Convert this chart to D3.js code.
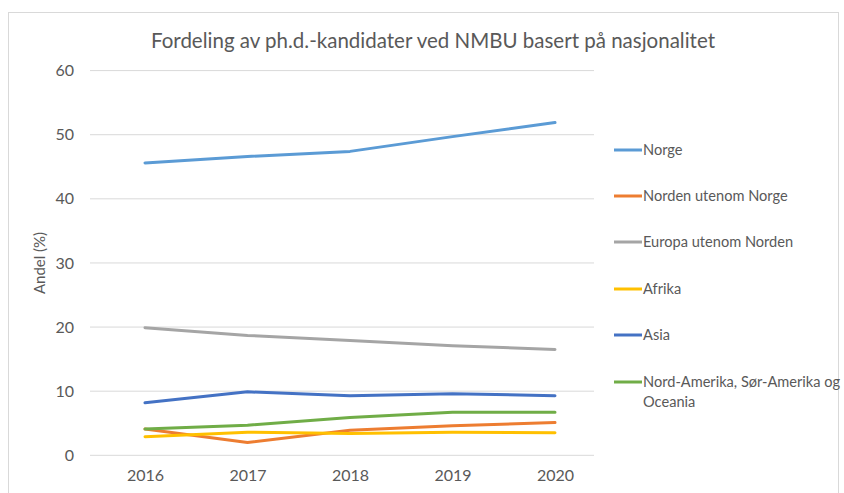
<!DOCTYPE html>
<html>
<head>
<meta charset="utf-8">
<script src="https://cdn.jsdelivr.net/npm/d3@7"></script>
<style>
  body { margin: 0; background: #fff; }
  text { font-family: Lato, "Open Sans", sans-serif; fill: #595959; }
</style>
</head>
<body>
<svg id="chart"></svg>
<script>
var w = 844;
var h = 493;

var years = [2016, 2017, 2018, 2019, 2020];
var seriesNames = ['Norge', 'Norden utenom Norge', 'Europa utenom Norden', 'Afrika', 'Asia', 'Nord-Amerika, Sør-Amerika og Oceania'];
var norge = [45.6, 46.6, 47.4, 49.7, 51.9];
var norden = [4.1, 2.0, 3.9, 4.6, 5.1];
var europa = [19.9, 18.7, 17.9, 17.1, 16.5];
var afrika = [2.9, 3.6, 3.4, 3.6, 3.5];
var asia = [8.2, 9.9, 9.3, 9.6, 9.3];
var amerika = [4.1, 4.7, 5.9, 6.7, 6.7];
var yTicks = [0, 10, 20, 30, 40, 50, 60];
var colors = ['#5B9BD5', '#ED7D31', '#A5A5A5', '#FFC000', '#4472C4', '#70AD47'];

var allSeries = [norge, norden, europa, afrika, asia, amerika];

var svg = d3.select('#chart').attr('width', w).attr('height', h);

// chart frame
svg.append('rect')
  .attr('x', 8.5).attr('y', 12.5)
  .attr('width', 830).attr('height', 500)
  .attr('fill', '#fff')
  .attr('stroke', '#d9d9d9');

var x = d3.scalePoint().domain(years).range([145, 555]);
var y = d3.scaleLinear().domain([0, 60]).range([455.3, 70.6]);

// gridlines
svg.append('g')
  .selectAll('line')
  .data(yTicks)
  .enter()
  .append('line')
  .attr('x1', 90).attr('x2', 594)
  .attr('y1', function (d) { return y(d); })
  .attr('y2', function (d) { return y(d); })
  .attr('stroke', '#d9d9d9')
  .attr('stroke-width', 1);

// y axis labels
var yAxis = d3.axisLeft(y).tickValues(yTicks).tickSize(0).tickPadding(0);
svg.append('g')
  .attr('transform', 'translate(74,0)')
  .call(yAxis)
  .call(function (g) { g.select('.domain').remove(); })
  .selectAll('text')
  .style('font-size', '16px')
  .style('font-family', 'Lato, sans-serif')
  .attr('fill', '#595959');

// x axis labels
var xAxis = d3.axisBottom(x).tickSize(0).tickPadding(0);
svg.append('g')
  .attr('transform', 'translate(0,470)')
  .call(xAxis)
  .call(function (g) { g.select('.domain').remove(); })
  .selectAll('text')
  .style('font-size', '16px')
  .style('font-family', 'Lato, sans-serif')
  .attr('fill', '#595959');

// lines
var line = d3.line()
  .x(function (d, i) { return x(years[i]); })
  .y(function (d) { return y(d); });

svg.append('g')
  .selectAll('path')
  .data(allSeries)
  .enter()
  .append('path')
  .attr('d', line)
  .attr('fill', 'none')
  .attr('stroke', function (d, i) { return colors[i]; })
  .attr('stroke-width', 3)
  .attr('stroke-linecap', 'round')
  .attr('stroke-linejoin', 'round');

// title
svg.append('text')
  .attr('x', 433).attr('y', 48)
  .attr('text-anchor', 'middle')
  .style('font-size', '20.5px')
  .text('Fordeling av ph.d.-kandidater ved NMBU basert på nasjonalitet');

// y axis title
svg.append('text')
  .attr('transform', 'translate(45,263) rotate(-90)')
  .attr('text-anchor', 'middle')
  .style('font-size', '15px')
  .text('Andel (%)');

// legend
var legendY = [150, 196, 242, 289, 335, 382];
var legend = svg.append('g')
  .selectAll('g')
  .data(seriesNames)
  .enter()
  .append('g')
  .attr('transform', function (d, i) { return 'translate(614,' + legendY[i] + ')'; });

legend.append('line')
  .attr('x1', 0).attr('x2', 28)
  .attr('y1', 0).attr('y2', 0)
  .attr('stroke', function (d, i) { return colors[i]; })
  .attr('stroke-width', 3);

legend.append('text')
  .attr('x', 29).attr('y', 5)
  .style('font-size', '14.6px')
  .each(function (d) {
    var t = d3.select(this);
    if (d.indexOf(' og') > 0) {
      t.append('tspan').attr('x', 29).text('Nord-Amerika, Sør-Amerika og');
      t.append('tspan').attr('x', 29).attr('dy', 20).text('Oceania');
    } else {
      t.text(d);
    }
  });
</script>
</body>
</html>
